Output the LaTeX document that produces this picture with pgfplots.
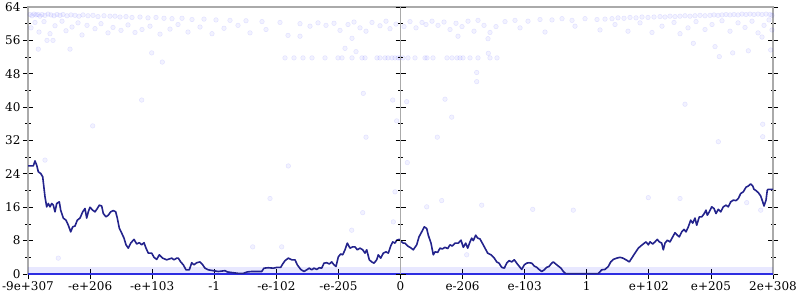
\documentclass[border=0pt]{standalone}
\usepackage{fontspec}
\setmainfont{DejaVu Serif}
\usepackage{pgfplots}
\pgfplotsset{compat=1.18}
\definecolor{navyline}{RGB}{35,35,140}
\definecolor{zeroblue}{RGB}{45,45,225}
\definecolor{axgray}{RGB}{170,170,170}
\begin{document}
\begin{tikzpicture}
\useasboundingbox (-28bp,-26bp) rectangle (772bp,274bp);
\begin{axis}[
  scale only axis, width=745bp, height=267bp,
  at={(0,0)}, anchor=south west,
  xmin=28, xmax=773, ymin=0, ymax=64,
  axis line style={draw=axgray, line width=1.6bp},
  ytick={0,8,...,64}, minor y tick num=1, ytick pos=both, yticklabel pos=left,
  xtick={28,90.08,152.17,214.25,276.33,338.42,400.5,462.58,524.67,586.75,648.83,710.92,773},
  xticklabels={-9e+307,-e+206,-e+103,-1,-e-102,-e-205,0,e-206,e-103,1,e+102,e+205,2e+308},
  xtick pos=bottom,
  tick align=center,
  major tick length=10bp, minor tick length=5bp,
  tick style={black, line width=0.8bp},
  /pgf/number format/assume math mode=true,
  ticklabel style={font=\fontsize{12bp}{14bp}\selectfont},
  yticklabel style={xshift=1bp},
  xticklabel style={yshift=1bp},
  clip=false,
]
% faint scatter
\addplot[only marks, mark=*, mark size=2.3bp, mark options={fill=blue, fill opacity=0.05, draw=blue, draw opacity=0.09, line width=0.5bp}] coordinates {
(30,62.2)(32,61.9)(34,62.3)(36,62.1)(38,62.2)(40,61.8)(42,62.2)(45,62.0)(48,62.3)(51,62.1)(54,61.9)(57,62.2)(60,62.0)(63,62.2)(67,61.9)(71,62.1)(75,62.0)(79,61.8)(83,62.1)(88,61.9)(93,62.0)(98,61.7)(104,61.9)(110,61.8)(115,61.8)(120,61.6)(126,61.7)(132,61.5)(140,61.6)(148,61.4)(156,61.5)(164,61.3)(172,61.2)(182,61.3)(192,61.0)(204,61.1)(216,60.9)(230,60.8)(246,60.7)(262,60.5)(280,60.3)
(31,59.0)(35,60.3)(39,58.0)(44,60.5)(50,57.6)(55,59.5)(62,60.6)(66,58.3)(72,59.2)(78,60.2)(82,57.3)(87,59.6)(95,58.8)(101,60.0)(108,57.8)(113,59.1)(121,58.4)(128,59.7)(135,57.9)(142,58.6)(150,59.4)(160,57.5)(170,58.7)(178,59.8)(188,58.0)(200,59.2)(212,57.6)(224,58.9)(238,59.6)(250,57.8)(266,58.6)(288,57.2)
(38.3,53.9)(70,53.9)(151.7,53.0)(162.3,50.8)(141.7,41.7)(92.7,35.5)(47,56)(53,56)
(300,60.0)(310,59.4)(318,60.2)(326,59.6)(334,60.1)(340,58.4)(348,59.8)(354,60.4)(360,59.0)(366,58.2)(372,60.3)(380,59.5)(386,60.6)(390,58.8)(396,59.9)(404,59.3)(410,60.5)(416,59.0)(422,60.3)(426,59.8)(432,60.6)(438,59.6)(444,60.4)(450,58.6)(456,60.1)(462,59.3)(468,60.6)(474,58.2)(478,60.8)(484,59.6)(490,57.9)(496,59.3)(300,57.0)(352,56.5)(458,57.0)(488,56.4)(345,54.1)(356,53.3)(488.3,52.9)
(285,51.8)(294,51.8)(303,51.8)(312,51.8)(325,51.8)(338,51.8)(342,51.8)(352,51.8)(362,51.8)(365,51.8)(377,51.8)(380,51.8)(385,51.8)(388,51.8)(392,51.8)(395,51.8)(398,51.8)(400,51.8)(403,51.8)(408,51.8)(415,51.8)(425,51.8)(427,51.8)(433,51.8)(447,51.8)(452,51.8)(457,51.8)(460,51.8)(463,51.8)(470,51.8)(478,51.8)(490,51.8)(497,51.8)
(505,60.5)(515,60.8)(528,60.6)(540,61.0)(552,60.9)(562,61.2)(572,60.8)(585,61.2)(597,61.0)(605,61.1)(612,61.2)(618,61.4)(624,61.3)(630,61.5)(636,61.4)(642,61.6)(648,61.5)(654,61.6)(660,61.7)(665,61.6)(670,61.8)(675,61.7)(680,61.8)(685,61.9)(690,61.8)(695,61.9)(700,62.0)(705,61.9)(710,62.0)(714,62.1)(718,62.0)(722,62.1)(726,62.2)(730,62.1)(734,62.2)(738,62.1)(742,62.3)(746,62.2)(750,62.3)(754,62.2)(758,62.3)(762,62.2)(766,62.3)(770,62.2)(772,62.0)
(520,59.0)(545,58.0)(575,59.4)(600,58.5)(615,59.8)(628,58.2)(640,60.2)(652,57.9)(662,59.4)(674,60.3)(680,57.6)(688,59.0)(696,60.5)(705,58.6)(712,59.8)(722,60.7)(730,58.2)(738,60.2)(745,59.1)(752,60.6)(758,57.8)(764,59.6)(769,60.9)(772,58.5)(762,56.8)
(693.3,55.3)(715,54.5)(719.3,52.1)(732.7,53.0)(748.3,53.5)(770.7,53.7)(685,40.7)(718.3,31.7)(762.7,35.9)(762.7,32.9)
(363.3,43.3)(392.7,41.7)(406.7,41.3)(396.7,36.7)(445,41.9)(451.7,37.6)(366,32.8)(437.3,32.8)(476.7,48.3)(476.7,46.1)(288.3,25.9)(270,18.1)(252.7,6.5)(281.7,6.5)(351.7,10.5)(362.7,14.7)(393.3,12.5)(395,19.7)(407.3,26.7)(426.7,16.1)(441.7,17.6)(481.7,16.5)(532.7,15.5)(573.3,15.3)(466.7,4.6)(648.3,18.3)(680,18.1)(746.7,17.1)(760.7,15.3)(45,27.3)(58.3,3.8)
};
% dense bottom band
\addplot[blue, opacity=0.09, line width=6bp] coordinates {(28,1.0) (773,1.0)};
\addplot[zeroblue, line width=2.6bp] coordinates {(28,0) (773,0)};
% main line
\addplot[navyline, line width=1.6bp, line join=round] coordinates {
(28,25.9) (33.3,25.9) (35,27.1) (36.7,26.1) (38.3,24.5) (40.7,24.1) (42.7,23.3) (45,18.5) (46.7,16.1) (48.3,16.9) (50,16.1) (51.7,16.9) (53.3,16.5) (55,14.9) (56.7,16.9) (59.3,17.3) (60.7,15.3) (63.3,13.4) (66,12.9) (68.3,11.7) (70.7,10.1) (72.7,11.3) (75,11.5) (77.3,12.9) (80,13.4) (82.7,14.9) (85,15.7) (86.7,13.4) (88.3,14.9) (90,16.0) (92.7,15.3) (95,14.9) (97.3,15.7) (99.3,16.5) (101.7,16.3) (103.3,14.5) (106,13.7) (108.3,14.1) (110.7,14.9) (113.3,15.2) (115.7,14.9) (117.3,13.4) (119.3,11.0) (121.7,9.8) (124,8.6) (126,7.0) (128.3,6.2) (130.7,7.4) (134,8.3) (136.7,7.2) (139.3,7.5) (141.7,7.0) (144,7.5) (146,6.2) (148.3,5.0) (151.7,5.0) (154,4.0) (156.7,3.5) (159.3,4.6) (162.7,3.8) (166.7,3.4) (171.7,3.8) (174,3.4) (176.7,3.8) (178.3,3.8)
(180.7,2.9) (183.3,2.2) (186,1.0) (189.3,1.0) (191.7,2.7) (194,2.2) (196.7,2.7) (200,2.9) (202.7,2.2) (205,1.4) (208.3,1.0) (213.3,0.8) (218.3,0.6) (225,0.8) (227.3,0.5) (233.3,0.3) (238.3,0.15) (243.3,0.15) (247.3,0.5) (251.7,0.6) (261.7,0.6) (264,1.4) (268.3,1.5) (273.3,1.4) (277.3,1.6) (280.7,1.6) (282.7,2.4) (285,3.2) (288.3,3.8) (291.7,3.4) (295,3.4) (297.3,2.2) (300.7,1.1) (304,0.6) (306.7,1.0) (309.3,1.4) (311.7,1.0) (314,1.4) (316.7,1.1) (319.3,1.5) (321.7,1.4) (324,2.6) (326.7,2.7) (329.3,2.4) (331.7,2.9) (334,2.2) (336,1.8) (338.3,4.1) (340.7,4.8) (342.7,4.6) (345,5.8) (347.3,7.4) (350,6.2) (352.7,6.5) (355,6.5) (357.3,5.8) (360,6.2) (362.7,5.8) (365,5.0) (366.7,5.8) (369.3,3.4) (371.7,2.9) (374,2.6) (376.7,3.4) (378.3,4.6) (380.7,3.8) (383.3,5.0) (386,5.3) (388.3,5.0) (390.7,6.7) (392.7,7.7) (395,7.4) (396.7,8.1) (399.3,8.3) (401.7,7.7) (403.3,7.4)
(405,7.4) (407.7,6.7) (410,6.4) (413.3,5.8) (416.7,7.0) (419,8.9) (421.7,10.1) (424.3,11.3) (426.7,10.9) (428.3,9.3) (431,7.4) (433.3,4.6) (435,5.3) (437.7,5.2) (440,6.2) (442.3,6.0) (445,6.4) (447.7,6.1) (450,7.0) (452.3,6.7) (455,7.4) (458.3,7.4) (461,8.1) (463.3,6.4) (465.7,7.4) (467.7,6.2) (470,7.7) (471.7,8.6) (473.3,8.0) (475.7,9.3) (477.7,8.6) (480,8.4) (482.3,7.4) (485,6.2) (487.7,5.0) (491,4.6) (494.3,3.8) (496.7,2.9) (499,2.6) (501.7,1.6) (504.3,1.4) (506.7,2.6) (509,3.2) (511.7,2.9) (514.3,3.4) (516.7,2.6) (519,1.9) (521.7,1.1) (524.3,2.2) (526.7,2.6) (529,2.7) (531.7,2.6) (534.3,1.9) (536.7,1.6) (539,1.1) (541.7,0.6) (544.3,1.0) (546.7,1.6) (549,1.8) (551.7,2.6) (553.3,2.9) (555.7,2.4) (558.3,1.9) (561,1.4) (563.3,0.6) (565.7,0.1) (598.3,0.1)
(601.7,1.0) (605,1.1) (608.3,1.8) (610.7,2.9) (613.3,3.5) (616.7,3.8) (620,4.0) (623,3.8) (626,3.4) (629.3,2.9) (631.7,3.8) (635,5.0) (638.3,6.2) (640.7,6.7) (643.3,7.2) (646,7.7) (648.3,7.0) (650,7.7) (652.7,7.2) (655,7.7) (657.3,8.3) (659.3,7.7) (661.7,7.4) (663.3,5.8) (665,7.4) (667.3,8.1) (670,7.7) (672.7,8.9) (675,9.9) (677.3,9.3) (679.3,8.9) (681.7,10.1) (684,10.7) (686,10.1) (688.3,11.3) (690.7,12.9) (692.7,12.2) (695,13.4) (696.7,11.7) (699.3,13.7) (701.7,13.7) (704,14.4) (706,15.3) (707.3,14.1) (709.3,14.9) (711.7,16.1) (714,15.7) (716,14.5) (718.3,15.5) (720.7,14.9) (723.3,16.1) (726,16.5) (728.3,16.1) (730.7,17.3) (733.3,17.7) (736,17.6) (738.3,18.1) (740.7,19.3) (743.3,19.7) (746,20.8) (748.3,21.1) (750.7,21.6) (752.7,21.1) (754,20.3) (756,20.0) (758.3,19.5) (760.7,18.7) (762.7,17.3) (764,16.3) (766,17.7) (767.3,20.1) (768.3,20.3) (773,20.3)
};
\end{axis}
% middle vertical axis with ticks
\begin{axis}[
  scale only axis, width=372.5bp, height=267bp,
  at={(372.5bp,0)}, anchor=south west,
  xmin=0, xmax=1, ymin=0, ymax=64,
  hide x axis, axis y line*=left,
  axis line style={draw=axgray, line width=1.6bp},
  ytick={0,8,...,64}, minor y tick num=1, yticklabels={},
  tick align=center,
  major tick length=10bp, minor tick length=5bp,
  tick style={black, line width=0.8bp},
]
\addplot[draw=none] coordinates {(0,0) (1,64)};
\end{axis}
\end{tikzpicture}
\end{document}
